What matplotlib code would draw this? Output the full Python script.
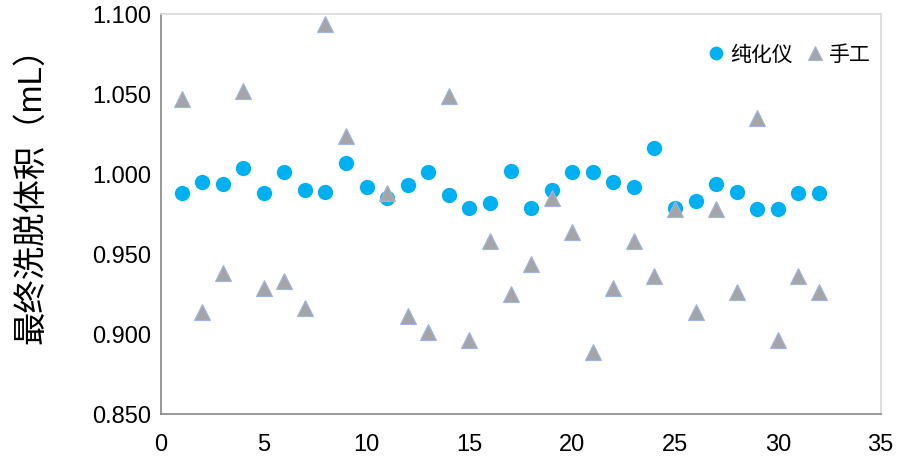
import numpy as np
import matplotlib
matplotlib.use("Agg")
import matplotlib.pyplot as plt

plt.rcParams['font.family'] = ['Liberation Sans', 'Noto Sans CJK SC', 'DejaVu Sans']

# 样品编号
runs = np.arange(1, 33)

# 纯化仪
purifier = [0.988, 0.995, 0.994, 1.004, 0.988, 1.001, 0.990, 0.989,
            1.007, 0.992, 0.985, 0.993, 1.001, 0.987, 0.979, 0.982,
            1.002, 0.979, 0.990, 1.001, 1.001, 0.995, 0.992, 1.016,
            0.979, 0.983, 0.994, 0.989, 0.978, 0.978, 0.988, 0.988]

# 手工 (no point visible at run 10)
manual = [1.047, 0.914, 0.938, 1.052, 0.929, 0.933, 0.916, 1.094,
          1.024, np.nan, 0.988, 0.911, 0.901, 1.049, 0.896, 0.958,
          0.925, 0.944, 0.985, 0.964, 0.889, 0.929, 0.958, 0.936,
          0.978, 0.914, 0.978, 0.926, 1.035, 0.896, 0.936, 0.926]

fig = plt.figure(figsize=(9.11, 4.77), dpi=100)
ax = fig.add_axes([0.1767, 0.130, 0.790, 0.8386])

ax.plot(runs, purifier, linestyle='none', marker='o', markersize=11,
        color='#00B0F0', markeredgewidth=0, label='纯化仪')
ax.plot(runs, manual, linestyle='none', marker='^', markersize=11,
        markerfacecolor='#A5A5A5', markeredgecolor='#9DB5E8',
        markeredgewidth=0.8, label='手工')

ax.set_xlim(0, 35)
ax.set_ylim(0.85, 1.1)
ax.set_xticks(np.arange(0, 36, 5))
ax.set_yticks(np.arange(0.85, 1.1001, 0.05))
ax.set_yticklabels(['%.3f' % v for v in np.arange(0.85, 1.1001, 0.05)])
ax.tick_params(length=0, labelsize=17, colors='black')
ax.tick_params(axis='y', pad=7)
ax.tick_params(axis='x', pad=14)

ax.spines['left'].set_color('#868686')
ax.spines['bottom'].set_color('#868686')
ax.spines['top'].set_color('#D9D9D9')
ax.spines['right'].set_color('#D9D9D9')
for s in ax.spines.values():
    s.set_linewidth(1.2)

fig.text(31 / 911, 1 - 187 / 477, '最终洗脱体积（mL）', rotation=90,
         fontsize=24, ha='center', va='center')

ax.legend(loc='upper right', bbox_to_anchor=(1.012, 0.97), ncol=2,
          frameon=False, fontsize=15, markerscale=0.9,
          handletextpad=0.15, columnspacing=0.6, handlelength=1.0)

fig.savefig('out.png', dpi=100)
